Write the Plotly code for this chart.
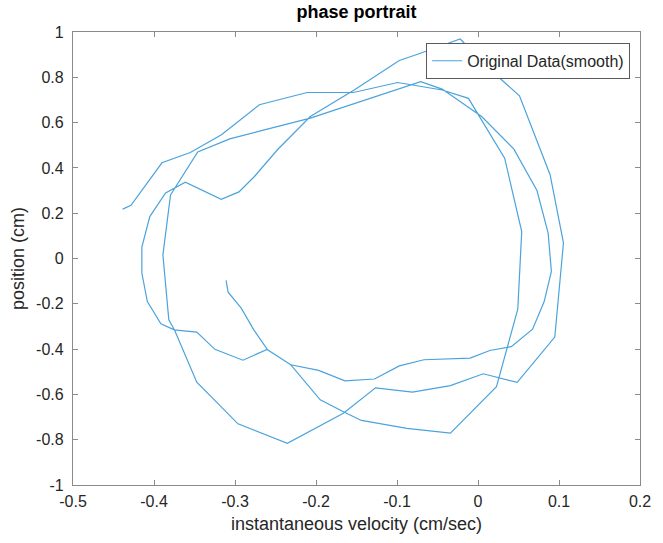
import plotly.graph_objects as go

# Smoothed phase-space trajectory: velocity (cm/sec) vs position (cm)
velocity = [
    -0.311, -0.3085, -0.2923, -0.2768, -0.2598, -0.2313,
    -0.1967, -0.1643, -0.1277, -0.0972, -0.0667, -0.0098, 0.0146, 0.0411,
    0.0674, 0.0817, 0.0906, 0.0866, 0.0728, 0.0443, 0.0045, -0.0443,
    -0.0707, -0.1033, -0.150, -0.207, -0.2638, -0.3065, -0.346, -0.3728,
    -0.3796, -0.389, -0.3817, -0.3744, -0.3594, -0.3472, -0.2963, -0.2354,
    -0.1662, -0.1265, -0.0809, -0.0341, 0.0065, 0.0484, 0.0948, 0.1055,
    0.089, 0.0512, 0.0126, -0.022, -0.0728, -0.0972, -0.1524, -0.207,
    -0.2476, -0.276, -0.2951, -0.317, -0.3613, -0.3857, -0.4052, -0.415,
    -0.415, -0.4082, -0.3915, -0.375, -0.3472, -0.3248, -0.2902, -0.2604,
    -0.2313, -0.1948, -0.1643, -0.1439, -0.0878, -0.0341, 0.0228, 0.0491,
    0.054, 0.0329, -0.0118, -0.0443, -0.0991, -0.154, -0.211, -0.2699,
    -0.3167, -0.3552, -0.3902, -0.4284, -0.4387,
]
position = [
    -0.097, -0.149, -0.219, -0.315, -0.403, -0.469,
    -0.494, -0.540, -0.532, -0.474, -0.447, -0.440, -0.406, -0.389,
    -0.312, -0.190, -0.057, 0.112, 0.300, 0.483, 0.627, 0.748,
    0.781, 0.742, 0.686, 0.620, 0.568, 0.528, 0.470, 0.318,
    0.281, 0.016, -0.271, -0.318, -0.447, -0.546, -0.730, -0.816,
    -0.683, -0.571, -0.590, -0.561, -0.509, -0.547, -0.347, 0.069,
    0.370, 0.718, 0.842, 0.969, 0.904, 0.874, 0.745, 0.627,
    0.480, 0.362, 0.294, 0.261, 0.337, 0.289, 0.185, 0.050,
    -0.064, -0.190, -0.288, -0.315, -0.325, -0.401, -0.449, -0.401,
    -0.469, -0.624, -0.680, -0.715, -0.750, -0.771, -0.566, -0.224,
    0.119, 0.443, 0.707, 0.744, 0.777, 0.733, 0.733, 0.679,
    0.546, 0.468, 0.4225, 0.235, 0.218,
]

x_ticks = [-0.5, -0.4, -0.3, -0.2, -0.1, 0, 0.1, 0.2]
x_tick_labels = ["-0.5", "-0.4", "-0.3", "-0.2", "-0.1", "0", "0.1", "0.2"]
y_ticks = [-1, -0.8, -0.6, -0.4, -0.2, 0, 0.2, 0.4, 0.6, 0.8, 1]
y_tick_labels = ["-1", "-0.8", "-0.6", "-0.4", "-0.2", "0", "0.2", "0.4", "0.6", "0.8", "1"]

LINE_BLUE = "#4ba3dc"
AXIS_GREY = "#8a8a8a"
TEXT_DARK = "#262626"
FONT = "Liberation Sans, Arial, Helvetica, sans-serif"

fig = go.Figure()
fig.add_trace(go.Scatter(
    x=velocity, y=position, mode="lines",
    name="Original Data(smooth)",
    line=dict(color=LINE_BLUE, width=1.2),
))

axis_common = dict(
    showgrid=False, zeroline=False,
    showline=True, linecolor=AXIS_GREY, linewidth=1.2,
    mirror="allticks", ticks="inside", ticklen=5,
    tickcolor=AXIS_GREY, tickwidth=1,
    tickfont=dict(family=FONT, size=16, color=TEXT_DARK),
)

fig.update_layout(
    width=663, height=543,
    margin=dict(l=73, r=15, t=32, b=58),
    paper_bgcolor="white", plot_bgcolor="white",
    font=dict(family=FONT, color=TEXT_DARK),
    title=dict(
        text="<b>phase portrait</b>",
        x=0.5, xref="paper", xanchor="center",
        y=1 - 12 / 543, yanchor="middle",
        font=dict(family=FONT, size=18, color="black"),
    ),
    xaxis=dict(
        range=[-0.5, 0.2], tickvals=x_ticks, ticktext=x_tick_labels,
        ticklabelstandoff=2,
        title=dict(text="instantaneous velocity (cm/sec)",
                   font=dict(family=FONT, size=18, color=TEXT_DARK), standoff=8),
        **axis_common,
    ),
    yaxis=dict(
        range=[-1, 1], tickvals=y_ticks, ticktext=y_tick_labels,
        ticklabelstandoff=5,
        title=dict(text="position (cm)",
                   font=dict(family=FONT, size=18, color=TEXT_DARK), standoff=6),
        **axis_common,
    ),
    showlegend=True,
    legend=dict(
        x=0.9826, y=0.976, xanchor="right", yanchor="top",
        bgcolor="white", bordercolor="#5a5a5a", borderwidth=1,
        font=dict(family=FONT, size=16, color=TEXT_DARK),
        itemwidth=30,
    ),
)

fig.write_html("out.html")
